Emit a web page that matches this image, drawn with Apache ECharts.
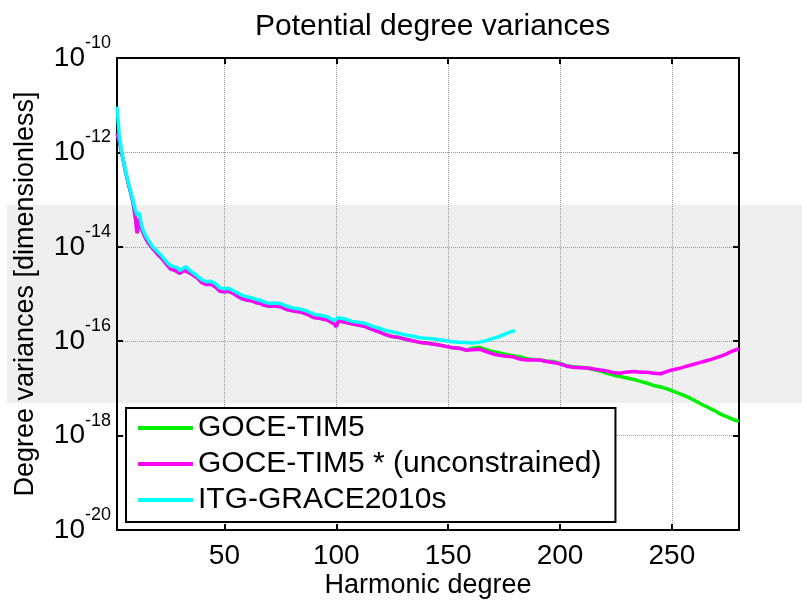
<!DOCTYPE html>
<html>
<head>
<meta charset="utf-8">
<title>Potential degree variances</title>
<script src="https://cdn.jsdelivr.net/npm/echarts@6/dist/echarts.min.js"></script>
<style>
  html, body { margin: 0; padding: 0; background: #fff; }
  #chart { width: 802px; height: 601px; }
</style>
</head>
<body>
<div id="chart"></div>
<script>
// Degree variances, stored as [harmonic degree, log10(variance)]
const goceTim5 = [
  [2,-11.60],[3,-11.75],[4,-11.98],[5,-12.22],[6,-12.45],[7,-12.65],[8,-12.83],[9,-13.02],[10,-13.30],
  [11,-13.71],[12,-13.40],[13,-13.62],[14,-13.74],[15,-13.84],[16,-13.92],[17,-13.98],[18,-14.04],
  [19,-14.09],[20,-14.15],[22,-14.24],[24,-14.36],[26,-14.47],[28,-14.50],[30,-14.56],[32,-14.50],
  [34,-14.54],[36,-14.60],[38,-14.66],[40,-14.76],[42,-14.80],[44,-14.79],[46,-14.85],[48,-14.94],
  [50,-14.95],[52,-14.94],[54,-14.99],[56,-15.05],[58,-15.10],[60,-15.13],[62,-15.14],[64,-15.18],
  [66,-15.20],[68,-15.24],[70,-15.26],[72,-15.25],[75,-15.27],[78,-15.33],[81,-15.36],[84,-15.38],
  [87,-15.43],[90,-15.50],[93,-15.52],[96,-15.55],[99,-15.63],[100,-15.69],[101,-15.57],[104,-15.60],
  [107,-15.63],[110,-15.66],[113,-15.69],[116,-15.75],[119,-15.80],[122,-15.86],[125,-15.90],
  [128,-15.92],[131,-15.96],[134,-15.99],[137,-16.02],[140,-16.04],[143,-16.06],[146,-16.08],
  [149,-16.11],[152,-16.14],[155,-16.15],[158,-16.19],[161,-16.15],[164,-16.13],[167,-16.18],
  [170,-16.22],[173,-16.25],[176,-16.28],[179,-16.31],[182,-16.33],[185,-16.37],[188,-16.39],
  [191,-16.40],[194,-16.42],[197,-16.43],[200,-16.47],[203,-16.52],[206,-16.54],[209,-16.55],
  [212,-16.57],[215,-16.60],[218,-16.63],[221,-16.68],[224,-16.72],[227,-16.75],[230,-16.78],
  [233,-16.81],[236,-16.85],[239,-16.89],[242,-16.94],[245,-16.97],[248,-17.01],[251,-17.07],
  [254,-17.12],[257,-17.18],[260,-17.25],[263,-17.33],[266,-17.40],[269,-17.47],[272,-17.55],
  [275,-17.61],[278,-17.67],[280,-17.70]
];

const goceTim5Unconstrained = [
  [2,-11.60],[3,-11.75],[4,-11.98],[5,-12.22],[6,-12.45],[7,-12.65],[8,-12.83],[9,-13.02],[10,-13.30],
  [11,-13.71],[12,-13.40],[13,-13.62],[14,-13.74],[15,-13.84],[16,-13.92],[17,-13.98],[18,-14.04],
  [19,-14.09],[20,-14.15],[22,-14.24],[24,-14.36],[26,-14.47],[28,-14.50],[30,-14.56],[32,-14.50],
  [34,-14.54],[36,-14.60],[38,-14.66],[40,-14.76],[42,-14.80],[44,-14.79],[46,-14.85],[48,-14.94],
  [50,-14.95],[52,-14.94],[54,-14.99],[56,-15.05],[58,-15.10],[60,-15.13],[62,-15.14],[64,-15.18],
  [66,-15.20],[68,-15.24],[70,-15.26],[72,-15.25],[75,-15.27],[78,-15.33],[81,-15.36],[84,-15.38],
  [87,-15.43],[90,-15.50],[93,-15.52],[96,-15.55],[99,-15.63],[100,-15.69],[101,-15.57],[104,-15.60],
  [107,-15.63],[110,-15.66],[113,-15.69],[116,-15.75],[119,-15.80],[122,-15.86],[125,-15.90],
  [128,-15.92],[131,-15.96],[134,-15.99],[137,-16.02],[140,-16.04],[143,-16.06],[146,-16.08],
  [149,-16.11],[152,-16.14],[155,-16.15],[158,-16.19],[161,-16.18],[164,-16.17],[167,-16.22],
  [170,-16.27],[173,-16.30],[176,-16.32],[179,-16.33],[182,-16.38],[185,-16.40],[188,-16.40],
  [191,-16.40],[194,-16.43],[197,-16.45],[200,-16.48],[203,-16.53],[206,-16.55],[209,-16.56],
  [212,-16.57],[215,-16.59],[218,-16.61],[221,-16.63],[224,-16.67],[227,-16.68],[230,-16.65],
  [233,-16.64],[236,-16.66],[239,-16.66],[242,-16.68],[245,-16.69],[248,-16.64],[250,-16.61],
  [253,-16.58],[256,-16.54],[259,-16.50],[262,-16.46],[265,-16.42],[268,-16.38],[271,-16.33],
  [274,-16.28],[277,-16.21],[280,-16.16]
];

const itgGrace2010s = [
  [2,-11.03],[3,-11.62],[4,-11.95],[5,-12.20],[6,-12.42],[7,-12.62],[8,-12.80],[9,-12.98],[10,-13.18],
  [11,-13.33],[12,-13.28],[13,-13.55],[14,-13.68],[15,-13.78],[16,-13.86],[17,-13.93],[18,-14.00],
  [19,-14.05],[20,-14.10],[21,-14.14],[22,-14.19],[23,-14.25],[24,-14.31],[25,-14.36],[26,-14.40],
  [27,-14.41],[28,-14.43],[29,-14.44],[30,-14.50],[31,-14.48],[32,-14.44],[33,-14.42],[34,-14.47],
  [35,-14.52],[36,-14.55],[37,-14.58],[38,-14.62],[39,-14.66],[40,-14.70],[42,-14.74],[44,-14.73],
  [46,-14.78],[48,-14.87],[50,-14.89],[52,-14.88],[54,-14.93],[56,-14.98],[58,-15.03],[60,-15.06],
  [62,-15.08],[64,-15.11],[66,-15.13],[68,-15.17],[70,-15.20],[72,-15.19],[75,-15.20],[78,-15.26],
  [81,-15.30],[84,-15.32],[87,-15.36],[90,-15.43],[93,-15.45],[96,-15.48],[99,-15.56],[101,-15.50],
  [104,-15.53],[107,-15.58],[110,-15.60],[113,-15.62],[116,-15.68],[119,-15.72],[122,-15.77],
  [125,-15.80],[128,-15.83],[131,-15.87],[134,-15.89],[137,-15.92],[140,-15.94],[143,-15.95],
  [146,-15.97],[149,-15.99],[152,-16.01],[155,-16.02],[158,-16.03],[161,-16.04],[164,-16.02],
  [167,-15.99],[170,-15.94],[173,-15.90],[176,-15.84],[178,-15.80],[180,-15.78]
];

const seriesNames = ['GOCE-TIM5', 'GOCE-TIM5 * (unconstrained)', 'ITG-GRACE2010s'];
const seriesColors = ['#00ee00', '#ff00ff', '#00ffff'];
const xTickValues = [50, 100, 150, 200, 250];
const degreeRange = [2, 280];
const varianceRange = [1e-20, 1e-10];

const toPoints = arr => arr.map(p => [p[0], Math.pow(10, p[1])]);

const FONT = '"Liberation Sans", Arial, Helvetica, sans-serif';
const chart = echarts.init(document.getElementById('chart'), null, { renderer: 'canvas' });

const xCommon = {
  type: 'value',
  min: degreeRange[0],
  max: degreeRange[1],
  nameMoveOverlap: false,
  axisLine: { show: true, onZero: false, lineStyle: { color: '#000', width: 2 } },
  axisTick: { show: true, inside: true, length: 6, customValues: xTickValues, lineStyle: { color: '#000', width: 2 } }
};
const yCommon = {
  type: 'log',
  logBase: 100,
  min: varianceRange[0],
  max: varianceRange[1],
  splitNumber: 5,
  nameMoveOverlap: false,
  axisLine: { show: true, onZero: false, lineStyle: { color: '#000', width: 2 } },
  axisTick: { show: true, inside: true, length: 6, lineStyle: { color: '#000', width: 2 } },
  minorTick: { show: false }
};

const option = {
  animation: false,
  backgroundColor: '#fff',
  textStyle: { fontFamily: FONT, color: '#000' },
  title: {
    text: 'Potential degree variances',
    left: 250,
    top: 7,
    textStyle: { fontFamily: FONT, fontSize: 30, fontWeight: 'normal', color: '#000' }
  },
  graphic: [{
    type: 'rect',
    silent: true,
    z: -10,
    shape: { x: 7, y: 205, width: 795, height: 198 },
    style: { fill: '#efefef' }
  }],
  grid: { left: 117, right: 63, top: 58, bottom: 71, containLabel: false, outerBoundsMode: 'none' },
  legend: {
    orient: 'vertical',
    left: 126,
    top: 408,
    data: seriesNames,
    icon: 'rect',
    itemWidth: 55,
    itemHeight: 4,
    itemGap: 6,
    padding: [5, 14, 7, 12],
    borderColor: '#000',
    borderWidth: 2,
    backgroundColor: '#fff',
    textStyle: { fontFamily: FONT, fontSize: 30, lineHeight: 30, color: '#000' }
  },
  xAxis: [
    Object.assign({}, xCommon, {
      position: 'bottom',
      name: 'Harmonic degree',
      nameLocation: 'middle',
      nameGap: 42,
      nameTextStyle: { fontFamily: FONT, fontSize: 27, color: '#000' },
      axisLabel: { show: true, customValues: xTickValues, margin: 12, fontFamily: FONT, fontSize: 28, color: '#000' },
      splitLine: { show: true, lineStyle: { color: '#9a9a9a', type: 'dotted', width: 1 } }
    }),
    Object.assign({}, xCommon, {
      position: 'top',
      axisLabel: { show: false },
      splitLine: { show: false }
    })
  ],
  yAxis: [
    Object.assign({}, yCommon, {
      position: 'left',
      name: 'Degree variances [dimensionless]',
      nameLocation: 'middle',
      nameGap: 78,
      nameTextStyle: { fontFamily: FONT, fontSize: 27, color: '#000' },
      axisLabel: {
        show: true,
        margin: 6,
        formatter: v => '{b|10}{s|' + Math.round(Math.log10(v)) + '}',
        rich: {
          b: { fontFamily: FONT, fontSize: 28, lineHeight: 28, color: '#000' },
          s: { fontFamily: FONT, fontSize: 18, lineHeight: 18, padding: [0, 0, 30, 0], color: '#000' }
        }
      },
      splitLine: { show: true, lineStyle: { color: '#9a9a9a', type: 'dotted', width: 1 } }
    }),
    Object.assign({}, yCommon, {
      position: 'right',
      axisLabel: { show: false },
      splitLine: { show: false }
    })
  ],
  series: [
    { name: seriesNames[0], type: 'line', data: toPoints(goceTim5) },
    { name: seriesNames[1], type: 'line', data: toPoints(goceTim5Unconstrained) },
    { name: seriesNames[2], type: 'line', data: toPoints(itgGrace2010s) }
  ].map((s, i) => Object.assign(s, {
    xAxisIndex: 0,
    yAxisIndex: 0,
    showSymbol: false,
    symbol: 'none',
    color: seriesColors[i],
    lineStyle: { color: seriesColors[i], width: 3.5 },
    itemStyle: { color: seriesColors[i] },
    z: 2 + i
  }))
};

chart.setOption(option);
</script>
</body>
</html>
